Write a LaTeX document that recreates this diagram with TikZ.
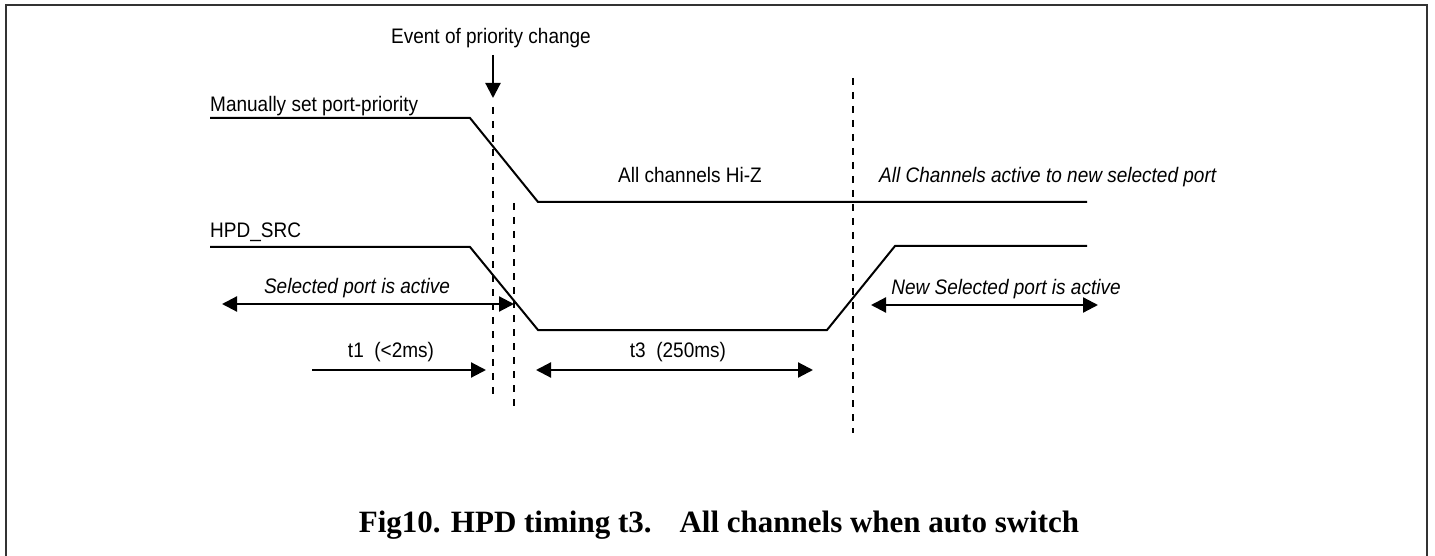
\documentclass[tikz,border=0pt]{standalone}
\usepackage{fontspec}
\setmainfont{Liberation Sans}[FakeStretch=0.905]
\newfontfamily\capfont{Liberation Serif}
\usetikzlibrary{arrows.meta}
\begin{document}
\begin{tikzpicture}[x=1pt,y=-1pt,
  sig/.style={line width=2pt,line join=miter},
  vdash/.style={line width=2pt,dash pattern=on 7pt off 7pt},
  dimarrow/.style={line width=2.2pt,{Triangle[length=15pt,width=15pt]}-{Triangle[length=15pt,width=15pt]}},
  fwdarrow/.style={line width=2.2pt,-{Triangle[length=15pt,width=15pt]}},
  lbl/.style={inner sep=0pt,anchor=base,font=\fontsize{21}{24}\selectfont},
  ilbl/.style={lbl,font=\fontsize{21}{24}\selectfont\itshape},
  frame/.style={line width=2pt,draw=black!80}]
\useasboundingbox (0,0) rectangle (1435,556);
\draw[frame] (6,556) -- (6,5) -- (1427,5) -- (1427,556);

% labels
\node[lbl] (event) at (491,44) {Event of priority change};
\node[lbl,anchor=base west] (manual) at (210,112) {Manually set port-priority};
\node[lbl] (hiz) at (690,183) {All channels Hi-Z};
\node[ilbl,anchor=base west] (newact) at (879,183) {All Channels active to new selected port};
\node[lbl,anchor=base west] (hpd) at (210,237) {HPD\_SRC};
\node[ilbl] (selact) at (357,293) {Selected port is active};
\node[ilbl] (newsel) at (1006,294) {New Selected port is active};
\node[lbl] (t1) at (391,357) {t1\ \ (<2ms)};
\node[lbl] (t3) at (678,357) {t3\ \ (250ms)};
\node[inner sep=0pt,anchor=base,font=\capfont\bfseries\fontsize{31}{34}\selectfont] (cap) at (719,532) {Fig10. HPD timing t3.\hspace{28pt}All channels when auto switch};

% event arrow
\coordinate (evtop) at (493,55);
\coordinate (evtip) at (493,98);
\draw[fwdarrow] (evtop) -- (evtip);

% dashed markers
\coordinate (d1a) at (493,107); \coordinate (d1b) at (493,401);
\coordinate (d2a) at (514,203); \coordinate (d2b) at (514,410);
\coordinate (d3a) at (853,78);  \coordinate (d3b) at (853,433);
\draw[vdash] (d1a) -- (d1b);
\draw[vdash] (d2a) -- (d2b);
\draw[vdash] (d3a) -- (d3b);

% top signal
\coordinate (m0) at (210,118); \coordinate (m1) at (470,118);
\coordinate (m2) at (538,202); \coordinate (m3) at (1087,202);
\draw[sig] (m0) -- (m1) -- (m2) -- (m3);

% HPD signal
\coordinate (h0) at (210,247); \coordinate (h1) at (470,247);
\coordinate (h2) at (538,330); \coordinate (h3) at (827,330);
\coordinate (h4) at (895,246); \coordinate (h5) at (1087,246);
\draw[sig] (h0) -- (h1) -- (h2) -- (h3) -- (h4) -- (h5);

% arrows
\coordinate (sa) at (222,304); \coordinate (sb) at (514,304);
\draw[dimarrow] (sa) -- (sb);
\coordinate (na) at (871,305); \coordinate (nb) at (1098,305);
\draw[dimarrow] (na) -- (nb);
\coordinate (t1a) at (312,370); \coordinate (t1b) at (486,370);
\draw[fwdarrow] (t1a) -- (t1b);
\coordinate (t3a) at (536,370); \coordinate (t3b) at (813,370);
\draw[dimarrow] (t3a) -- (t3b);
\end{tikzpicture}
\end{document}
